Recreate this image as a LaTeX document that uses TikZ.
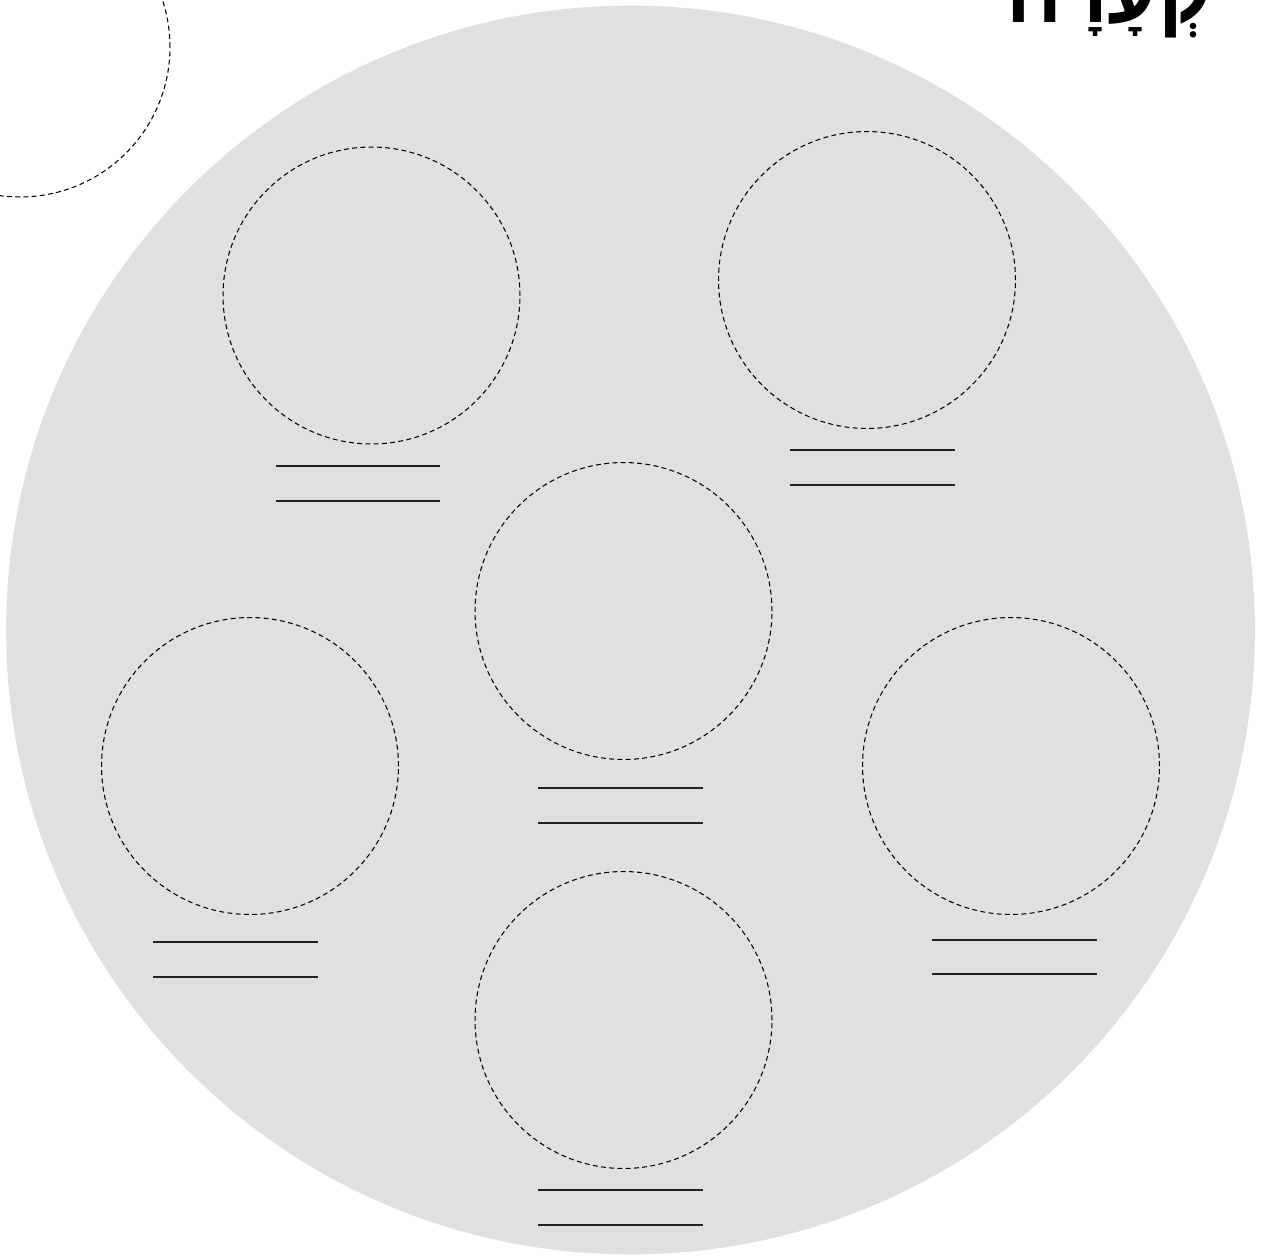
\documentclass[tikz,border=0pt]{standalone}
\usepackage{fontspec}
\newfontfamily\hebfont[Script=Hebrew]{Liberation Sans}
\TeXXeTstate=1
\definecolor{plategray}{HTML}{E0E0E0}
\definecolor{inkgray}{HTML}{222222}

\begin{document}
\begin{tikzpicture}[
    x=0.02cm, y=-0.02cm,
    plate/.style={circle, fill=plategray, inner sep=0pt, outer sep=0pt, minimum size=24.98cm},
    slot/.style={circle, draw=black, dash pattern=on 2.8pt off 1.9pt, line width=0.6pt, inner sep=0pt, outer sep=0pt, minimum size=5.94cm},
    answer/.style={line width=1.6pt, draw=inkgray}
]
\useasboundingbox (0,0) rectangle (1261,1258);

% Plate
\node[plate] (plate) at (630.5, 630) {};
\node[slot, minimum size=6cm] (corner) at (20, 47) {};

% Title
\node[anchor=base east, inner sep=0pt, font=\hebfont\bfseries\fontsize{47}{50}\selectfont] (title) at (1213, 22) {\beginR קְעָרָה\endR};

% Item circles
\node[slot] (beitza) at (371.5, 295.5) {};
\node[slot] (zroa) at (867, 280) {};
\node[slot] (maror) at (623.5, 611) {};
\node[slot] (charoset) at (250, 766) {};
\node[slot] (karpas) at (1011, 766) {};
\node[slot] (chazeret) at (623.5, 1020) {};

% Answer lines
\draw[answer] (276, 466) -- (440, 466);
\draw[answer] (276, 501) -- (440, 501);
\draw[answer] (790, 450) -- (955, 450);
\draw[answer] (790, 485) -- (955, 485);
\draw[answer] (538, 788) -- (703, 788);
\draw[answer] (538, 823) -- (703, 823);
\draw[answer] (153, 942) -- (318, 942);
\draw[answer] (153, 977) -- (318, 977);
\draw[answer] (932, 940) -- (1097, 940);
\draw[answer] (932, 974) -- (1097, 974);
\draw[answer] (538, 1190) -- (703, 1190);
\draw[answer] (538, 1225) -- (703, 1225);

\end{tikzpicture}
\end{document}
